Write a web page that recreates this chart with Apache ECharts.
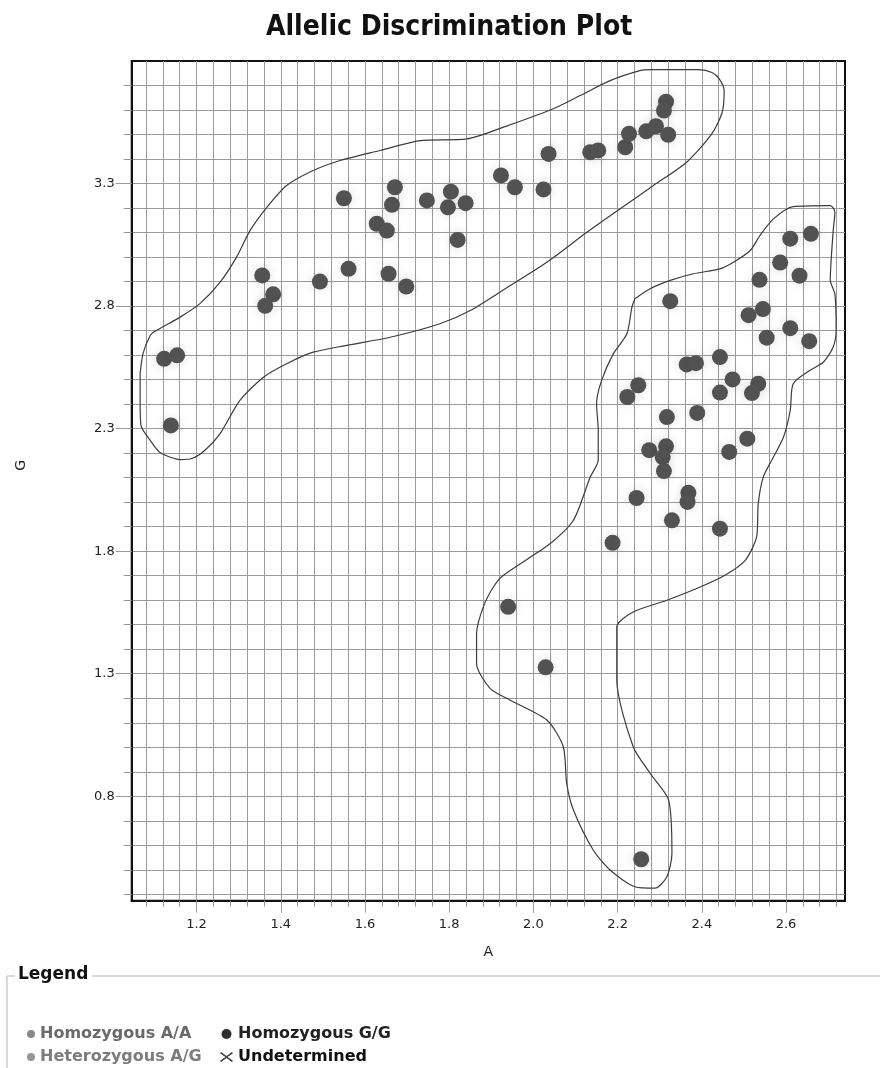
<!DOCTYPE html>
<html><head><meta charset="utf-8">
<script src="https://cdn.jsdelivr.net/npm/echarts@6/dist/echarts.min.js"></script>
<style>html,body{margin:0;padding:0;background:#fff}#c{width:880px;height:1068px}</style>
</head><body><div id="c"></div>
<script>
// ---- tick values ----
const xLabelTicks = [1.2, 1.4, 1.6, 1.8, 2.0, 2.2, 2.4, 2.6];
const yLabelTicks = [0.8, 1.3, 1.8, 2.3, 2.8, 3.3];
const xGridTicks = [1.08,1.12,1.16,1.20,1.24,1.28,1.32,1.36,1.40,1.44,1.48,1.52,1.56,1.60,1.64,1.68,1.72,1.76,1.80,1.84,1.88,1.92,1.96,2.00,2.04,2.08,2.12,2.16,2.20,2.24,2.28,2.32,2.36,2.40,2.44,2.48,2.52,2.56,2.60,2.64,2.68,2.72];
const yGridTicks = [0.4,0.5,0.6,0.7,0.8,0.9,1.0,1.1,1.2,1.3,1.4,1.5,1.6,1.7,1.8,1.9,2.0,2.1,2.2,2.3,2.4,2.5,2.6,2.7,2.8,2.9,3.0,3.1,3.2,3.3,3.4,3.5,3.6,3.7];

// ---- sample points [A, G] ----
const upperCluster = [
  [1.123,2.585],[1.154,2.599],[1.139,2.313],[1.356,2.925],[1.382,2.848],[1.363,2.801],
  [1.493,2.900],[1.561,2.952],[1.550,3.240],[1.628,3.136],[1.652,3.108],[1.664,3.213],
  [1.671,3.285],[1.656,2.932],[1.698,2.880],[1.747,3.231],[1.797,3.203],[1.804,3.267],
  [1.839,3.220],[1.820,3.070],[1.923,3.333],[1.956,3.285],[2.024,3.276],[2.036,3.421],
  [2.135,3.428],[2.154,3.435],[2.218,3.448],[2.227,3.503],[2.268,3.513],[2.291,3.534],
  [2.320,3.499],[2.315,3.634],[2.310,3.598]
];
const rightCluster = [
  [2.610,3.075],[2.659,3.095],[2.586,2.978],[2.632,2.924],[2.537,2.907],[2.325,2.820],
  [2.545,2.788],[2.511,2.763],[2.610,2.710],[2.554,2.671],[2.655,2.657],[2.364,2.562],
  [2.386,2.567],[2.443,2.592],[2.473,2.501],[2.534,2.483],[2.519,2.445],[2.443,2.447],
  [2.249,2.477],[2.223,2.429],[2.317,2.347],[2.389,2.364],[2.508,2.259],[2.465,2.205],
  [2.275,2.212],[2.315,2.228],[2.307,2.184],[2.310,2.127],[2.245,2.017],[2.368,2.038],
  [2.366,2.001],[2.329,1.926],[2.443,1.892],[2.188,1.834],[1.940,1.573],[2.029,1.326],
  [2.256,0.543]
];
const homozygousAA = [];
const heterozygousAG = [];
const undetermined = [];

// ---- cluster outlines [A, G] ----
const upperOutline = [
  [1.066,2.525],[1.073,2.607],[1.090,2.680],[1.101,2.697],[1.161,2.755],[1.208,2.810],
  [1.256,2.898],[1.295,3.000],[1.327,3.108],[1.367,3.203],[1.414,3.292],[1.477,3.353],
  [1.541,3.394],[1.636,3.435],[1.731,3.475],[1.842,3.482],[1.929,3.530],[2.047,3.605],
  [2.111,3.659],[2.182,3.720],[2.253,3.761],[2.279,3.765],[2.393,3.765],[2.424,3.753],
  [2.441,3.728],[2.453,3.679],[2.448,3.589],[2.424,3.504],[2.364,3.387],[2.285,3.292],
  [2.206,3.197],[2.127,3.101],[2.032,2.979],[1.945,2.884],[1.850,2.782],[1.778,2.728],
  [1.660,2.673],[1.557,2.640],[1.477,2.612],[1.414,2.565],[1.359,2.510],[1.303,2.415],
  [1.256,2.280],[1.220,2.212],[1.189,2.178],[1.161,2.174],[1.113,2.203],[1.090,2.252],
  [1.068,2.313],[1.066,2.415],[1.066,2.525]
];
const rightOutline = [
  [2.241,2.830],[2.277,2.871],[2.325,2.905],[2.380,2.932],[2.443,2.952],[2.475,2.979],
  [2.515,3.027],[2.538,3.088],[2.570,3.156],[2.617,3.206],[2.705,3.210],[2.716,3.183],
  [2.712,3.108],[2.705,2.905],[2.716,2.850],[2.719,2.701],[2.712,2.633],[2.689,2.572],
  [2.657,2.538],[2.617,2.483],[2.610,2.375],[2.594,2.266],[2.566,2.171],[2.546,2.103],
  [2.534,1.994],[2.530,1.858],[2.503,1.763],[2.455,1.702],[2.396,1.654],[2.317,1.600],
  [2.237,1.552],[2.198,1.491],[2.198,1.274],[2.237,1.002],[2.277,0.894],[2.321,0.785],
  [2.329,0.567],[2.317,0.472],[2.289,0.425],[2.241,0.431],[2.182,0.499],[2.142,0.581],
  [2.095,0.744],[2.079,0.853],[2.071,1.002],[2.032,1.111],[1.945,1.192],[1.897,1.240],
  [1.865,1.342],[1.865,1.464],[1.881,1.573],[1.905,1.654],[1.929,1.702],[2.040,1.831],
  [2.095,1.926],[2.135,2.103],[2.154,2.171],[2.154,2.293],[2.150,2.402],[2.162,2.497],
  [2.190,2.606],[2.222,2.687],[2.234,2.796],[2.241,2.830]
];

const X_MIN = 1.046, X_MAX = 2.74, Y_MIN = 0.374, Y_MAX = 3.8;
const FONT = 'DejaVu Sans';
const gridCol = '#9a9a9a';
const dotCol = '#525252';
const crossIcon = 'path://M0,1.2L1.2,0L6.5,4L11.8,0L13,1.2L7.6,5L13,8.8L11.8,10L6.5,6L1.2,10L0,8.8L5.4,5Z';

const chart = echarts.init(document.getElementById('c'), null, {renderer: 'canvas'});
const legendText = {fontFamily: FONT, fontWeight: 'bold', fontSize: 16, lineHeight: 18};

chart.setOption({
  animation: false,
  backgroundColor: '#ffffff',
  title: {
    text: 'Allelic Discrimination Plot',
    left: 261, top: 9,
    textStyle: {fontFamily: "'DejaVu Sans Condensed', 'Liberation Sans', sans-serif", fontWeight: 'bold', fontSize: 28, color: '#111'}
  },
  grid: {left: 131.7, right: 35, top: 61, bottom: 167.3, show: true, borderColor: '#111', borderWidth: 2, backgroundColor: 'transparent'},
  xAxis: [
    {
      type: 'value', min: X_MIN, max: X_MAX, position: 'bottom',
      name: 'A', nameLocation: 'middle', nameGap: 45,
      nameTextStyle: {fontFamily: FONT, fontSize: 14, color: '#222'},
      axisLine: {show: true, onZero: false, lineStyle: {color: '#111', width: 2}},
      axisTick: {show: true, customValues: xGridTicks, length: 6, lineStyle: {color: gridCol}},
      splitLine: {show: true, lineStyle: {color: gridCol, width: 1}},
      axisLabel: {show: false}
    },
    {
      type: 'value', min: X_MIN, max: X_MAX, position: 'bottom',
      axisLine: {show: false},
      axisTick: {show: true, customValues: xLabelTicks, length: 12, lineStyle: {color: gridCol}},
      splitLine: {show: false},
      axisLabel: {show: true, customValues: xLabelTicks, margin: 17, color: '#222', fontFamily: FONT, fontSize: 13,
                  formatter: v => Number(v).toFixed(1)}
    }
  ],
  yAxis: [
    {
      type: 'value', min: Y_MIN, max: Y_MAX, position: 'left',
      axisLine: {show: true, onZero: false, lineStyle: {color: '#111', width: 2}},
      axisTick: {show: true, customValues: yGridTicks, length: 8, lineStyle: {color: gridCol}},
      splitLine: {show: true, lineStyle: {color: gridCol, width: 1}},
      axisLabel: {show: false}
    },
    {
      type: 'value', min: Y_MIN, max: Y_MAX, position: 'left',
      axisLine: {show: false},
      axisTick: {show: true, customValues: yLabelTicks, length: 16, lineStyle: {color: gridCol}},
      splitLine: {show: false},
      axisLabel: {show: true, customValues: yLabelTicks, margin: 17, color: '#222', fontFamily: FONT, fontSize: 13,
                  formatter: v => Number(v).toFixed(1)}
    }
  ],
  legend: [
    {
      left: 27, top: 1025, padding: 0, orient: 'vertical', itemGap: 5, itemWidth: 8, itemHeight: 8,
      selectedMode: false, textStyle: legendText,
      data: [
        {name: 'Homozygous A/A', icon: 'circle', itemStyle: {color: '#6a6a6a'}, textStyle: {color: '#6a6a6a'}},
        {name: 'Heterozygous A/G', icon: 'circle', itemStyle: {color: '#7c7c7c'}, textStyle: {color: '#7c7c7c'}}
      ]
    },
    {
      left: 220, top: 1025, padding: 0, orient: 'vertical', itemGap: 5, itemWidth: 13, itemHeight: 10,
      selectedMode: false, textStyle: legendText,
      data: [
        {name: 'Homozygous G/G', icon: 'circle', itemStyle: {color: '#2e2e2e'}, textStyle: {color: '#222'}},
        {name: 'Undetermined', icon: crossIcon, itemStyle: {color: '#111'}, textStyle: {color: '#111'}}
      ]
    }
  ],
  graphic: [
    {type: 'text', left: 14, top: 460, rotation: Math.PI / 2,
     style: {text: 'G', fontFamily: FONT, fontSize: 14, fill: '#222'}},
    {type: 'line', shape: {x1: 7, y1: 976, x2: 15, y2: 976}, style: {stroke: '#b5b5b5', lineWidth: 1}},
    {type: 'line', shape: {x1: 92, y1: 976, x2: 880, y2: 976}, style: {stroke: '#b5b5b5', lineWidth: 1}},
    {type: 'line', shape: {x1: 7, y1: 976, x2: 7, y2: 1068}, style: {stroke: '#b5b5b5', lineWidth: 1}},
    {type: 'text', left: 18, top: 966,
     style: {text: 'Legend', fontFamily: FONT, fontWeight: 'bold', fontSize: 17, fill: '#111'}}
  ],
  series: [
    {name: 'upper outline', type: 'line', data: upperOutline, showSymbol: false, symbol: 'none', smooth: 0.25,
     lineStyle: {color: '#3c3c3c', width: 1.2}, silent: true, z: 2},
    {name: 'right outline', type: 'line', data: rightOutline, showSymbol: false, symbol: 'none', smooth: 0.25,
     lineStyle: {color: '#3c3c3c', width: 1.2}, silent: true, z: 2},
    {name: 'Homozygous A/A', type: 'scatter', data: homozygousAA, itemStyle: {color: '#6a6a6a'}},
    {name: 'Heterozygous A/G', type: 'scatter', data: heterozygousAG, itemStyle: {color: '#7c7c7c'}},
    {name: 'Homozygous G/G', type: 'scatter', data: upperCluster.concat(rightCluster), symbolSize: 16, z: 3,
     itemStyle: {color: dotCol, opacity: 1, shadowBlur: 12, shadowColor: 'rgba(0,0,0,0.13)'}},
    {name: 'Undetermined', type: 'scatter', data: undetermined, symbol: crossIcon, itemStyle: {color: '#111'}}
  ]
});
</script>
</body></html>
